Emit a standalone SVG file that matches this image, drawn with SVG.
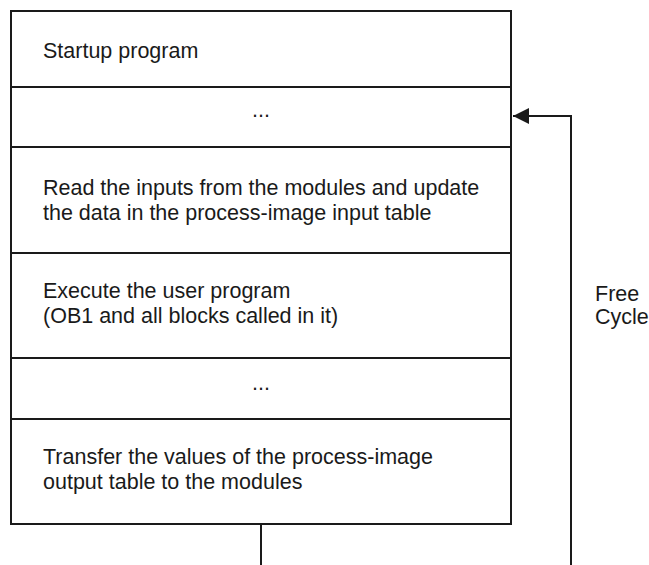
<svg xmlns="http://www.w3.org/2000/svg" width="649" height="565" viewBox="0 0 649 565">
  <style>
    .t { font-family: "Liberation Sans", Arial, sans-serif; font-size: 21.5px; fill: #1a1a1a; }
    .c { text-anchor: middle; }
    .box { fill: #ffffff; stroke: #1a1a1a; stroke-width: 2; }
    .sep { stroke: #1a1a1a; stroke-width: 2; fill: none; }
    .conn { stroke: #1a1a1a; stroke-width: 2; fill: none; }
  </style>
  <defs>
    <marker id="arrow" markerUnits="userSpaceOnUse" markerWidth="18" markerHeight="18" refX="16" refY="9" orient="auto">
      <path d="M0,1 L16,9 L0,17 Z" fill="#1a1a1a"/>
    </marker>
  </defs>
  <rect width="649" height="565" fill="#ffffff"/>

  <g id="stack">
    <rect class="box" x="11" y="11" width="500" height="513"/>
  </g>
  <g id="startup">
    <text class="t" x="43" y="58">Startup program</text>
  </g>
  <g id="dots1">
    <line class="sep" x1="11" y1="87" x2="511" y2="87"/>
    <text class="t c" x="261" y="117">...</text>
  </g>
  <g id="read-inputs">
    <line class="sep" x1="11" y1="147" x2="511" y2="147"/>
    <text class="t" x="43" y="195">Read the inputs from the modules and update</text>
    <text class="t" x="43" y="220">the data in the process-image input table</text>
  </g>
  <g id="execute">
    <line class="sep" x1="11" y1="253" x2="511" y2="253"/>
    <text class="t" x="43" y="298">Execute the user program</text>
    <text class="t" x="43" y="323">(OB1 and all blocks called in it)</text>
  </g>
  <g id="dots2">
    <line class="sep" x1="11" y1="358" x2="511" y2="358"/>
    <text class="t c" x="261" y="390">...</text>
  </g>
  <g id="transfer">
    <line class="sep" x1="11" y1="419" x2="511" y2="419"/>
    <text class="t" x="43" y="464">Transfer the values of the process-image</text>
    <text class="t" x="43" y="489">output table to the modules</text>
  </g>
  <g id="free-cycle-label">
    <text class="t" x="595" y="301">Free</text>
    <text class="t" x="595" y="324">Cycle</text>
  </g>

  <g id="connectors">
    <line class="conn" x1="261" y1="524" x2="261" y2="565"/>
    <polyline class="conn" points="571,565 571,116 513,116" marker-end="url(#arrow)"/>
  </g>
</svg>
